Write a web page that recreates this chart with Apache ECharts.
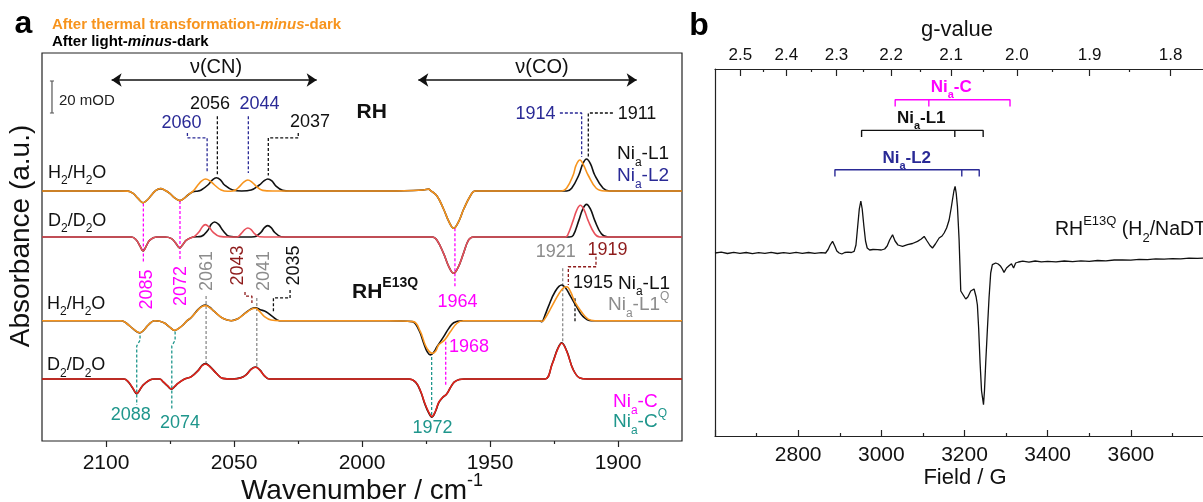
<!DOCTYPE html>
<html>
<head>
<meta charset="utf-8">
<title>FTIR difference spectra and EPR of RH</title>
<script src="https://cdn.jsdelivr.net/npm/echarts@6/dist/echarts.min.js"></script>
<style>
html, body { margin: 0; padding: 0; background: #fff; }
#main { width: 1203px; height: 502px; }
</style>
</head>
<body>
<div id="main"></div>
<script>
var FONT = '"Liberation Sans", Arial, sans-serif';
var BLACK = '#111111', ORANGE = '#f7941d', RED_RH = '#e8505b', RED_Q = '#e2231a';
var NAVY = '#2a2a96', MAGENTA = '#ff00ff', GRAY = '#8c8c8c', DARKRED = '#8e1b1b', TEAL = '#1f968c';

// ---- panel a : IR difference spectra (wavenumber / cm-1, absorbance in mOD) ----
var wnTicks = [2100, 2050, 2000, 1950, 1900];
var wnMinorTicks = [2075, 2025, 1975, 1925];
// baseline of each stacked trace: RH H2, RH D2, E13Q H2, E13Q D2
var traceBaselines = [156.25, 127.5, 75.2, 38.75];

var rhH2Light = [[2125,0],[2095,0],[2091.4,-0.1],[2089.4,-1.5],[2087.5,-4.6],[2085.5,-7.3],[2083.7,-5.3],[2082.2,-2.5],[2080.5,0.4],[2078.7,1.5],[2076.8,0.3],[2075.1,-1.5],[2073.2,-4.3],[2071.2,-6],[2069.5,-4.6],[2068,-2.5],[2066,-0.5],[2064,0],[2062.8,0.6],[2060.2,3.75],[2058.4,7],[2056.9,8.3],[2055.3,7],[2053.7,3.75],[2050.5,0.6],[2047,0],[2043.3,0.6],[2040.1,3.75],[2038.3,6.3],[2036.8,7.5],[2035.2,6.3],[2033.6,3.1],[2031,0.4],[2028,0],[1990,0],[1976,0.6],[1974,1.2],[1973.2,0.3],[1970.7,-3.1],[1968.1,-11.4],[1966,-19.3],[1964.2,-23.3],[1962.3,-19.3],[1960.3,-11.4],[1957.7,-3.1],[1955.8,0],[1930,0],[1920,0],[1918.1,1.7],[1915.3,10],[1913.8,16.8],[1912.3,20],[1910.7,16.8],[1909.1,10],[1905.8,1.7],[1903.3,0],[1875,0]];
var rhH2Thermal = [[2125,0],[2095,0],[2091.4,-0.1],[2089.4,-1.5],[2087.5,-4.6],[2085.5,-7.3],[2083.7,-5.3],[2082.2,-2.5],[2080.5,0.4],[2078.7,1.6],[2076.8,0.3],[2075.1,-1.5],[2073.2,-4.3],[2071.2,-6],[2069.5,-4.6],[2068,-2.5],[2066,-0.1],[2064.1,3.75],[2062.6,6.3],[2061.1,7.5],[2059.4,6.3],[2057.6,3.75],[2055,0.6],[2052.5,-0.2],[2050.5,0],[2049.2,0.8],[2047.9,2.7],[2046.2,5.6],[2044.6,6.9],[2043,5.6],[2041.4,3.1],[2038.8,0.4],[2035,0],[1990,0],[1976,0.6],[1974,1.2],[1973.2,0.3],[1970.7,-3.1],[1968.1,-11.4],[1966,-19.3],[1964.2,-23.3],[1962.3,-19.3],[1960.3,-11.4],[1957.7,-3.1],[1955.8,0],[1930,0],[1922.1,0],[1920.1,1.7],[1917.5,10],[1916.4,16],[1914.9,19.4],[1913.4,16],[1911.7,10],[1908.5,1.7],[1905.2,0],[1875,0]];
var rhD2Light = [[2125,0],[2095,0],[2090,0],[2088.1,-2],[2086.8,-5.4],[2085.5,-8.75],[2084.2,-5.4],[2082.9,-2],[2080.3,0],[2077,0],[2074.4,-1],[2072.8,-3.8],[2071.2,-6.9],[2069.9,-4.5],[2068.6,-2],[2066,0],[2062.8,0.4],[2060.2,4.2],[2058.9,7.9],[2057.6,9.4],[2056,7.9],[2054.4,4.2],[2051.8,0.4],[2048,0],[2042,0.2],[2039.4,3.1],[2038.1,5.9],[2036.8,7.1],[2035.5,5.9],[2034.2,3.1],[2031.6,0.2],[2028,0],[1990,0],[1972.5,0],[1970.7,-2],[1968.1,-10.4],[1966,-18.8],[1964.2,-22.7],[1962.4,-18.8],[1960.4,-10.4],[1958.4,-2],[1956.5,0],[1925,0],[1919,0],[1917.5,1],[1915.3,10.4],[1913.8,17.3],[1912.3,20.4],[1910.7,17.3],[1909.1,10.4],[1906.5,2],[1903.9,0],[1875,0]];
var rhD2Thermal = [[2125,0],[2095,0],[2090,0],[2088.1,-2],[2086.8,-5.4],[2085.5,-8.75],[2084.2,-5.4],[2082.9,-2],[2080.3,0],[2077,0],[2074.4,-1],[2072.8,-3.8],[2071.2,-6.9],[2069.9,-4.5],[2068.6,-2],[2066,0],[2065.4,0.4],[2063.7,3.1],[2062.4,6.3],[2061.2,7.75],[2059.8,6.3],[2058.2,3.1],[2055.6,0.4],[2052,0],[2048.8,0],[2047.2,2.1],[2045.8,4.6],[2044.6,5.6],[2043.3,4.6],[2042,2.1],[2040,0.2],[2036,0],[1990,0],[1972.5,0],[1970.7,-2],[1968.1,-10.4],[1966,-18.8],[1964.2,-22.7],[1962.4,-18.8],[1960.4,-10.4],[1958.4,-2],[1956.5,0],[1925,0],[1920.5,0],[1919.7,1],[1917.5,10.4],[1916.1,16.8],[1914.7,19.8],[1913.2,16.8],[1911.7,10.4],[1909.1,2],[1907.1,0],[1875,0]];
var e13qH2Light = [[2125,0],[2094,0],[2092,-1.6],[2089.5,-5],[2086.8,-7.6],[2085,-5.5],[2083.5,-2.7],[2081,0],[2079,-0.3],[2077,-1.6],[2075,-4.2],[2073.2,-6.1],[2071.6,-4.8],[2069.9,-2.7],[2068.3,0],[2066.7,2],[2064.1,6.9],[2062.5,9.1],[2061.1,9.8],[2059.5,8.4],[2057.6,5.6],[2054.4,1.5],[2051.1,0],[2048.5,1.2],[2045.9,4.4],[2043.2,7.5],[2041.6,8.1],[2039.8,6.9],[2037.5,5.6],[2034.9,2.5],[2032.3,0],[2028,0],[1990,0],[1980.4,-0.6],[1977.8,-5.8],[1975.9,-14.1],[1974.5,-19.5],[1973.3,-21.4],[1972,-19.8],[1970.7,-16.3],[1968.1,-10],[1966.1,-4.8],[1964.2,-1.3],[1961,0],[1935,0],[1930.7,0],[1929.8,-0.6],[1928.5,3.5],[1927.2,8.75],[1924.6,18.1],[1922,22.3],[1920.4,20.3],[1918.8,16],[1916.2,8.75],[1913.6,2.5],[1910.5,0],[1875,0]];
var e13qH2Thermal = [[2125,0],[2094,0],[2092,-1.6],[2089.5,-5],[2086.8,-7.5],[2085,-5.5],[2083.5,-2.7],[2081,0],[2079,-0.3],[2077,-1.6],[2075,-4.2],[2073.2,-6],[2071.6,-4.8],[2069.9,-2.7],[2068.3,0],[2066.7,2],[2064.1,6.7],[2062.5,8.8],[2061.1,9.4],[2059.5,8.2],[2057.6,5.6],[2054.4,1.5],[2051.1,0],[2048.5,1.2],[2045.9,4.2],[2043.2,7.2],[2041.6,7.75],[2040,5.8],[2038.1,2.5],[2035.5,0.4],[2032,0],[1990,0],[1980,-0.6],[1977.2,-6.9],[1975.3,-15.2],[1973.8,-19.2],[1972.4,-20.4],[1971.2,-19],[1970.1,-15.2],[1967.7,-12],[1965.5,-6.9],[1962.9,-1.6],[1960.4,0],[1935,0],[1930.5,0],[1929.8,-0.4],[1929,0.2],[1925.9,8.75],[1923,17.1],[1921.2,20.7],[1920,21.25],[1918.5,18],[1916.9,11.9],[1914.3,5.6],[1911.7,1],[1909,0],[1875,0]];
var e13qD2Light = [[2125,0],[2093,0],[2091.3,-1.8],[2089.6,-5.7],[2088,-9.2],[2086.7,-6.6],[2085.5,-3.8],[2082.9,-0.6],[2081,0],[2079,0],[2077.7,-1.8],[2076,-4.3],[2074.4,-6.4],[2073.2,-4.8],[2071.9,-2.7],[2069.3,0],[2066.7,1.5],[2064,5.4],[2062.5,8.5],[2061.2,9.6],[2059.5,8],[2056.9,3.6],[2054.4,0.4],[2050.6,0],[2047.5,0.7],[2045.3,2.6],[2043.3,6.2],[2041.6,7.5],[2039.9,5.7],[2038.1,2],[2036.2,0],[2030,0],[1990,0],[1981.7,0],[1979,-2.1],[1977,-8.3],[1975.5,-15.4],[1974,-21],[1972.7,-23.8],[1971.3,-20.3],[1970,-14.8],[1968.5,-11.6],[1967,-9.5],[1965.5,-5.5],[1964,-2],[1962,-0.3],[1960,0],[1935,0],[1928.5,0],[1925.7,9.5],[1923.6,18.8],[1922,22.6],[1920,17.4],[1917.5,5.9],[1914.9,0.6],[1912,0],[1875,0]];
var e13qD2Thermal = [[2125,0],[2093,0],[2091.3,-1.7],[2089.6,-5.5],[2088,-9],[2086.7,-6.5],[2085.5,-3.75],[2082.9,-0.6],[2081,0],[2079,0],[2077.7,-1.7],[2076,-4.2],[2074.4,-6.25],[2073.2,-4.7],[2071.9,-2.7],[2069.3,0],[2066.7,1.4],[2064,5.2],[2062.5,8.3],[2061.2,9.4],[2059.5,7.8],[2056.9,3.5],[2054.4,0.4],[2050.6,0],[2047.5,0.6],[2045.3,2.5],[2043.3,6],[2041.6,7.3],[2039.9,5.5],[2038.1,1.9],[2036.2,0],[2030,0],[1990,0],[1981.7,0],[1979,-2],[1977,-8],[1975.5,-15],[1974,-20.5],[1972.7,-23.5],[1971.3,-20],[1970,-14.5],[1968.5,-11.5],[1967,-9.5],[1965.5,-5.5],[1964,-2],[1962,-0.3],[1960,0],[1935,0],[1928.5,0],[1925.7,9.3],[1923.6,18.5],[1922,22.3],[1920,17.2],[1917.5,5.8],[1914.9,0.6],[1912,0],[1875,0]];

// ---- panel b : EPR spectrum (field / G, signal a.u.) ----
var fieldLabels = [2800, 3000, 3200, 3400, 3600];
var gMajor = [2.5, 2.4, 2.3, 2.2, 2.1, 2.0, 1.9, 1.8];
var gMinor = [2.45, 2.35, 2.25, 2.15, 2.05, 1.95, 1.85];
var gC = 6652; // B = gC / g
var gNiC = [2.193, 2.136, 2.010];
var gNiL1 = [2.253, 2.094, 2.050];
var gNiL2 = [2.303, 2.083, 2.056];
var eprSpectrum = [[2600,0],[2615,0.8],[2630,-0.5],[2645,0.6],[2660,-0.4],[2675,0.5],[2690,-0.6],[2705,0.3],[2720,-0.3],[2735,0.7],[2750,-0.5],[2765,0.4],[2780,-0.4],[2795,0.6],[2810,-0.3],[2825,0.5],[2840,-0.4],[2855,0.3],[2866,0],[2872,3.5],[2877,8],[2882.7,11.6],[2888,7],[2893,2],[2898.6,0],[2905,-1],[2912,0.5],[2920,0.8],[2928,0.5],[2934.6,1.6],[2939,8],[2943,26],[2947,44],[2950.7,52],[2954,44],[2958,27],[2962,12],[2966,5],[2972,3],[2980,3.5],[2991,3.3],[3000,3],[3008,4],[3014,7],[3020,13],[3027,18.3],[3033,12],[3040,8],[3051,6.6],[3063,8.3],[3075,9.5],[3087,11.6],[3096,14],[3103,16.6],[3110,12],[3117,7.5],[3123,5],[3130,9],[3139,15],[3146,17],[3151,20],[3157,25],[3163,33],[3168,45],[3171,53],[3174.5,62],[3177.4,66.6],[3180,60],[3183,46.6],[3185,30],[3187,13.3],[3189,-12],[3191,-38],[3197,-42],[3203,-46],[3208,-44],[3215,-38],[3223,-36],[3228,-44],[3231,-52],[3234,-75],[3237.5,-110],[3241,-138],[3245.7,-151.7],[3248,-138],[3251,-110],[3255,-76.7],[3259,-45],[3263,-20],[3267,-11.7],[3271,-10.5],[3275,-10],[3281,-11],[3287,-13.3],[3291,-16],[3295,-19.4],[3301,-15],[3307,-12.7],[3313,-10.7],[3318,-15],[3323,-10],[3330,-9],[3340,-8.2],[3355,-9.2],[3370,-8],[3385,-8.8],[3400,-8.3],[3420,-8.8],[3440,-8],[3460,-8.7],[3480,-7.8],[3500,-8.4],[3520,-7.5],[3540,-7.9],[3560,-7],[3580,-6.8],[3600,-7.2],[3620,-6.3],[3640,-6.7],[3660,-5.9],[3680,-6.2],[3700,-5.6],[3720,-5.8],[3740,-5.2],[3760,-5.4],[3780,-5],[3800,-5.1]];

function toField(g) { return gC / g; }

function trace(data, base, color) {
    return {
        type: 'line', xAxisIndex: 0, yAxisIndex: 0, silent: true,
        data: data.map(function (p) { return [p[0], p[1] + base]; }),
        smooth: 0.4, symbol: 'none', lineStyle: { color: color, width: 1.6 }, z: 3
    };
}

// dashed leader lines from peak labels to peaks (data coordinates)
var leaders = [
    [NAVY, [[2068.2,192.5],[2068.2,189.4],[2060.5,189.4],[2060.5,167.5]]],
    [BLACK, [[2056.5,203],[2056.5,166.5]]],
    [NAVY, [[2044.4,203],[2044.4,167.5]]],
    [BLACK, [[2024.9,192.5],[2024.9,189.4],[2036.6,189.4],[2036.6,166]]],
    [NAVY, [[1922.7,205],[1914.2,205],[1914.2,177.5]]],
    [BLACK, [[1902,205],[1911.6,205],[1911.6,177.5]]],
    [MAGENTA, [[2085.4,148.5],[2085.4,111]]],
    [MAGENTA, [[2071.1,150],[2071.1,113]]],
    [MAGENTA, [[1963.7,133],[1963.7,96.5]]],
    [GRAY, [[2060.9,90.6],[2060.9,48]]],
    [DARKRED, [[2045.7,93.1],[2045.7,90.6],[2043,90.6],[2043,86.3]]],
    [GRAY, [[2041.1,89.4],[2041.1,46.3]]],
    [BLACK, [[2028.1,94.4],[2028.1,89.4],[2034.6,89.4],[2034.6,80.6]]],
    [MAGENTA, [[1967.3,62],[1967.3,35]]],
    [TEAL, [[1972.8,52.5],[1972.8,15]]],
    [GRAY, [[1921.6,108],[1921.6,62]]],
    [DARKRED, [[1908.6,115.2],[1908.6,108.9],[1919.4,108.9],[1919.4,97.5]]],
    [BLACK, [[1916.8,89.2],[1916.8,74.6]]],
    [TEAL, [[2086.7,66],[2086.7,63],[2088,59.4],[2088,22.5]]],
    [TEAL, [[2073,68.5],[2073,63],[2074.3,59.4],[2074.3,19.4]]]
];

function bracket(gs, yLine, color) {
    var b = gs.map(toField);
    var t = yLine - 6.7;
    return {
        type: 'line', xAxisIndex: 2, yAxisIndex: 1, silent: true, symbol: 'none',
        lineStyle: { color: color, width: 1.4 },
        data: [[b[0], t], [b[0], yLine], [b[1], yLine], [b[1], t], [b[1], yLine], [b[2], yLine], [b[2], t]]
    };
}

function txt(x, y, s, color, size, o) {
    o = o || {};
    var w = o.bold ? 'bold' : 'normal';
    var small = Math.round(size * 0.65);
    var lh = size + 10;
    function st(fs, va, fstyle) {
        var r = { fill: color, fontFamily: FONT, fontSize: fs, fontWeight: w, lineHeight: va === 'middle' ? lh : fs, verticalAlign: va };
        if (fstyle) r.fontStyle = fstyle;
        return r;
    }
    return {
        type: 'text', x: x, y: y, rotation: o.rotate ? Math.PI / 2 : 0, silent: true, z: 50,
        style: {
            text: s, fill: color, fontFamily: FONT, fontSize: size, fontWeight: w,
            align: o.align || 'center', verticalAlign: 'middle',
            rich: { n: st(size, 'middle'), i: st(size, 'middle', 'italic'), sub: st(small, 'bottom'), sup: st(small, 'top') }
        }
    };
}

var series = [
    trace(rhH2Light, traceBaselines[0], BLACK),
    trace(rhH2Thermal, traceBaselines[0], ORANGE),
    trace(rhD2Light, traceBaselines[1], BLACK),
    trace(rhD2Thermal, traceBaselines[1], RED_RH),
    trace(e13qH2Light, traceBaselines[2], BLACK),
    trace(e13qH2Thermal, traceBaselines[2], ORANGE),
    trace(e13qD2Light, traceBaselines[3], BLACK),
    trace(e13qD2Thermal, traceBaselines[3], RED_Q)
];
leaders.forEach(function (l) {
    series.push({
        type: 'line', xAxisIndex: 0, yAxisIndex: 0, silent: true, symbol: 'none', data: l[1],
        lineStyle: { color: l[0], width: 1.3, type: [3, 2] }, z: 2
    });
});
// 20 mOD scale bar and the v(CN) / v(CO) range arrows
series.push({
    type: 'line', xAxisIndex: 0, yAxisIndex: 0, silent: true, symbol: 'none',
    data: [[2121.9,205],[2120.3,205],[2121.1,205],[2121.1,225],[2121.9,225],[2120.3,225]],
    lineStyle: { color: '#555', width: 1.2 },
    markLine: {
        silent: true, symbol: ['arrow', 'arrow'], symbolSize: 10, label: { show: false },
        lineStyle: { color: '#111', width: 1.5, type: 'solid' },
        emphasis: { disabled: true },
        data: [
            [{ coord: [2097.8, 225.6] }, { coord: [2017.7, 225.6] }],
            [{ coord: [1978, 225.6] }, { coord: [1892.7, 225.6] }]
        ]
    }
});
series.push({
    type: 'line', xAxisIndex: 2, yAxisIndex: 1, silent: true, symbol: 'none', data: eprSpectrum,
    lineStyle: { color: BLACK, width: 1.3 }
});
series.push(bracket(gNiC, 153.3, MAGENTA));
series.push(bracket(gNiL1, 122.6, BLACK));
series.push(bracket(gNiL2, 83.3, NAVY));

var axisCol = '#222';
var graphic = [
    txt(23.5, 24, '{n|a}', '#000', 32, { bold: true }),
    txt(52, 25, '{n|After thermal transformation-}{i|minus}{n|-dark}', ORANGE, 15, { bold: true, align: 'left' }),
    txt(52, 41.5, '{n|After light-}{i|minus}{n|-dark}', '#000', 15, { bold: true, align: 'left' }),
    txt(216, 67, '{n|ν(CN)}', BLACK, 20),
    txt(542, 67, '{n|ν(CO)}', BLACK, 20),
    txt(59, 100.5, '{n|20 mOD}', '#222', 15, { align: 'left' }),
    txt(210, 104, '{n|2056}', BLACK, 18),
    txt(259.5, 104, '{n|2044}', NAVY, 18),
    txt(181.5, 123, '{n|2060}', NAVY, 18),
    txt(310, 122, '{n|2037}', BLACK, 18),
    txt(371.7, 112.7, '{n|RH}', BLACK, 21, { bold: true }),
    txt(535.5, 114, '{n|1914}', NAVY, 18),
    txt(637, 114, '{n|1911}', BLACK, 18),
    txt(48, 173, '{n|H}{sub|2}{n|/H}{sub|2}{n|O}', BLACK, 18, { align: 'left' }),
    txt(617, 154, '{n|Ni}{sub|a}{n|-L1}', BLACK, 19, { align: 'left' }),
    txt(617, 176, '{n|Ni}{sub|a}{n|-L2}', NAVY, 19, { align: 'left' }),
    txt(48, 221, '{n|D}{sub|2}{n|/D}{sub|2}{n|O}', BLACK, 18, { align: 'left' }),
    txt(146.7, 289.5, '{n|2085}', MAGENTA, 18, { rotate: true }),
    txt(181, 286, '{n|2072}', MAGENTA, 18, { rotate: true }),
    txt(207.5, 271, '{n|2061}', GRAY, 18, { rotate: true }),
    txt(238.5, 265.5, '{n|2043}', DARKRED, 18, { rotate: true }),
    txt(264, 271, '{n|2041}', GRAY, 18, { rotate: true }),
    txt(294, 265.5, '{n|2035}', BLACK, 18, { rotate: true }),
    txt(457.5, 302.5, '{n|1964}', MAGENTA, 18),
    txt(352, 292, '{n|RH}{sup|E13Q}', BLACK, 21, { bold: true, align: 'left' }),
    txt(555.7, 251.7, '{n|1921}', GRAY, 18),
    txt(607.5, 250, '{n|1919}', DARKRED, 18),
    txt(593, 283.3, '{n|1915}', BLACK, 18),
    txt(618, 283.3, '{n|Ni}{sub|a}{n|-L1}', BLACK, 19, { align: 'left' }),
    txt(608, 305, '{n|Ni}{sub|a}{n|-L1}{sup|Q}', GRAY, 19, { align: 'left' }),
    txt(47, 304, '{n|H}{sub|2}{n|/H}{sub|2}{n|O}', BLACK, 18, { align: 'left' }),
    txt(47, 365.5, '{n|D}{sub|2}{n|/D}{sub|2}{n|O}', BLACK, 18, { align: 'left' }),
    txt(469, 346.7, '{n|1968}', MAGENTA, 18),
    txt(432.5, 428, '{n|1972}', TEAL, 18),
    txt(130.8, 415, '{n|2088}', TEAL, 18),
    txt(180, 423.3, '{n|2074}', TEAL, 18),
    txt(613, 401.7, '{n|Ni}{sub|a}{n|-C}', MAGENTA, 19, { align: 'left' }),
    txt(613, 421.7, '{n|Ni}{sub|a}{n|-C}{sup|Q}', TEAL, 19, { align: 'left' }),
    txt(21, 236, '{n|Absorbance (a.u.)}', BLACK, 28, { rotate: true }),
    txt(362, 491, '{n|Wavenumber / cm}{sup|-1}', BLACK, 28),
    // panel b
    txt(699, 26, '{n|b}', '#000', 32, { bold: true }),
    txt(957, 30, '{n|g-value}', BLACK, 22),
    txt(951.2, 87.2, '{n|Ni}{sub|a}{n|-C}', MAGENTA, 17, { bold: true }),
    txt(921.2, 118.2, '{n|Ni}{sub|a}{n|-L1}', BLACK, 17, { bold: true }),
    txt(906.7, 158.3, '{n|Ni}{sub|a}{n|-L2}', NAVY, 17, { bold: true }),
    txt(1055, 230, '{n|RH}{sup|E13Q}{n| (H}{sub|2}{n|/NaDT)}', BLACK, 19.5, { align: 'left' }),
    txt(965, 478.3, '{n|Field / G}', BLACK, 22)
];

var chart = echarts.init(document.getElementById('main'));
chart.setOption({
    animation: false,
    grid: [
        { left: 42, top: 53, width: 640, height: 388, show: true, borderColor: axisCol, borderWidth: 1.2, backgroundColor: 'transparent', outerBoundsMode: 'none' },
        { left: 715, top: 69, width: 499, height: 367, outerBoundsMode: 'none' }
    ],
    xAxis: [
        {
            gridIndex: 0, type: 'value', inverse: true, min: 1875, max: 2125, position: 'bottom',
            axisLine: { show: false, onZero: false }, splitLine: { show: false },
            axisTick: { inside: false, length: 6, lineStyle: { color: axisCol, width: 1.2 }, customValues: wnTicks },
            axisLabel: {
                margin: 12, fontSize: 21, color: BLACK, fontFamily: FONT, customValues: wnTicks,
                formatter: function (v) { return String(v); }
            }
        },
        {
            gridIndex: 0, type: 'value', inverse: true, min: 1875, max: 2125, position: 'bottom',
            axisLine: { show: false, onZero: false }, splitLine: { show: false }, axisLabel: { show: false },
            axisTick: { inside: false, length: 3, lineStyle: { color: axisCol, width: 1.2 }, customValues: wnMinorTicks }
        },
        {
            gridIndex: 1, type: 'value', min: 2600, max: 3800, interval: 200, position: 'bottom',
            axisLine: { onZero: false, lineStyle: { color: axisCol, width: 1.2 } }, splitLine: { show: false },
            axisTick: { inside: true, length: 6, lineStyle: { color: axisCol, width: 1.2 } },
            minorTick: { show: true, splitNumber: 2, length: 3, lineStyle: { color: axisCol, width: 1.2 } },
            axisLabel: {
                margin: 9, fontSize: 21, color: BLACK, fontFamily: FONT,
                formatter: function (v) { return fieldLabels.indexOf(v) >= 0 ? String(v) : ''; }
            }
        },
        {
            gridIndex: 1, type: 'value', min: 2600, max: 3800, position: 'top',
            axisLine: { onZero: false, lineStyle: { color: axisCol, width: 1.2 } }, splitLine: { show: false },
            axisTick: { inside: true, length: 7, lineStyle: { color: axisCol, width: 1.2 }, customValues: gMajor.map(toField) },
            axisLabel: {
                margin: 5, fontSize: 17, color: BLACK, fontFamily: FONT, customValues: gMajor.map(toField),
                formatter: function (v) { return (gC / v).toFixed(1); }
            }
        },
        {
            gridIndex: 1, type: 'value', min: 2600, max: 3800, position: 'top',
            axisLine: { show: false, onZero: false }, splitLine: { show: false }, axisLabel: { show: false },
            axisTick: { inside: true, length: 3, lineStyle: { color: axisCol, width: 1.2 }, customValues: gMinor.map(toField) }
        }
    ],
    yAxis: [
        {
            gridIndex: 0, type: 'value', min: 0, max: 242.5,
            axisLine: { show: false }, axisTick: { show: false }, axisLabel: { show: false }, splitLine: { show: false }
        },
        {
            gridIndex: 1, type: 'value', min: -183, max: 184, position: 'left',
            axisLine: { show: true, onZero: false, lineStyle: { color: axisCol, width: 1.2 } },
            axisTick: { show: false }, axisLabel: { show: false }, splitLine: { show: false }
        }
    ],
    series: series,
    graphic: graphic
});
</script>
</body>
</html>
